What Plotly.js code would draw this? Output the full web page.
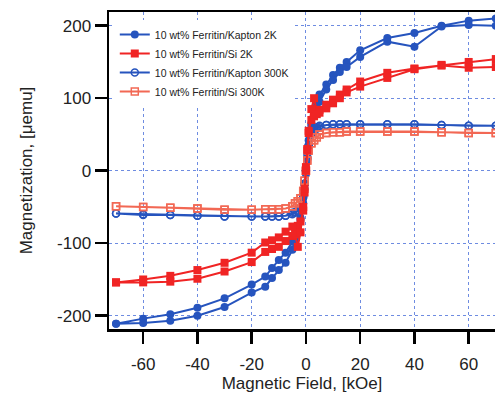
<!DOCTYPE html>
<html>
<head>
<meta charset="utf-8">
<script src="https://cdn.plot.ly/plotly-3.0.1.min.js"></script>
<style>html,body{margin:0;padding:0;background:#fff;}#chart{width:495px;height:394px;}</style>
</head>
<body>
<div id="chart"></div>
<script>
// Field sweep (kOe): descending branch, then ascending branch
const fieldDown = [70,60,50,40,30,20,15,12.5,10,7.5,5,4,3,2,1,0.5,0,-0.5,-1,-2,-3,-4,-5,-7.5,-10,-12.5,-15,-20,-30,-40,-50,-60,-70];
const fieldUp = [-70,-60,-50,-40,-30,-20,-15,-12.5,-10,-7.5,-5,-4,-3,-2,-1,-0.5,0,0.5,1,2,3,4,5,7.5,10,12.5,15,20,30,40,50,60,70];

// Magnetization (uemu)
const kapton2K_down = [210,207,200,190,183,166,150,142,132,119,105,94,80,62,35,15,-5,-25,-45,-68,-82,-92,-98,-113,-123,-134,-146,-157,-176,-189,-198,-204,-211];
const kapton2K_up = [-211,-210,-207,-200,-188,-168,-160,-148,-137,-127,-109,-98,-85,-65,-38,-18,3,22,42,65,78,88,95,112,125,136,143,157,178,171,199,201,200];

const si2K_down = [154,150,146,141,135,123,112,105,98,91,84,82,100,85,52,28,0,-30,-55,-70,-76,-78,-77,-84,-92,-96,-99,-113,-127,-137,-145,-150,-154];
const si2K_up = [-154,-154,-153,-149,-139,-126,-112,-108,-105,-97,-90,-88,-105,-85,-50,-25,5,30,55,70,75,78,80,86,93,100,108,116,128,140,145,142,143];

const kapton300K_down = [62,62,63,64,64,64,64,64,64,63,62,60,58,52,35,18,0,-18,-35,-50,-55,-57,-58,-62,-63,-63,-63,-63,-63,-62,-61,-61,-59];
const kapton300K_up = [-59,-60,-61,-62,-63,-63,-63,-63,-63,-62,-60,-58,-56,-52,-36,-18,0,17,34,50,56,58,60,63,64,64,64,64,64,64,63,62,62];

const si300K_down = [52,52,53,54,54,54,54,53,53,52,50,46,42,38,28,14,0,-14,-28,-38,-42,-45,-49,-52,-53,-53,-53,-54,-54,-52,-51,-50,-49];
const si300K_up = [-49,-50,-51,-52,-54,-54,-53,-53,-53,-52,-49,-45,-42,-38,-28,-14,0,14,28,38,42,46,50,52,53,53,54,54,54,54,53,52,52];

const seriesNames = ["10 wt% Ferritin/Kapton 2K","10 wt% Ferritin/Si 2K","10 wt% Ferritin/Kapton 300K","10 wt% Ferritin/Si 300K"];
const xTicks = [-60,-40,-20,0,20,40,60];
const yTicks = [-200,-100,0,100,200];

const blue = 'rgb(38,84,190)';
const red = 'rgb(240,36,36)';
const salmon = 'rgb(242,104,84)';

const loopX = fieldDown.concat(fieldUp);

function tr(name, y, color, symbol, rank, open) {
  return {
    type: 'scatter', mode: 'lines+markers', name: name,
    x: loopX, y: y, legendrank: rank,
    line: {color: color, width: 2},
    marker: open
      ? {symbol: symbol, size: 7, color: color, line: {color: color, width: 1.5}}
      : {symbol: symbol, size: 8, color: color, line: {width: 0}}
  };
}

const data = [
  tr(seriesNames[0], kapton2K_down.concat(kapton2K_up), blue, 'circle', 1, false),
  tr(seriesNames[2], kapton300K_down.concat(kapton300K_up), blue, 'circle-open', 3, true),
  tr(seriesNames[3], si300K_down.concat(si300K_up), salmon, 'square-open', 4, true),
  tr(seriesNames[1], si2K_down.concat(si2K_up), red, 'square', 2, false)
];

const layout = {
  width: 495, height: 394,
  margin: {l: 109, r: 0, t: 12, b: 65},
  paper_bgcolor: '#fff', plot_bgcolor: '#fff',
  font: {family: 'Arial, "Liberation Sans", sans-serif', color: '#222', size: 17},
  showlegend: true,
  legend: {x: 0.015, y: 0.975, xanchor: 'left', yanchor: 'top', bgcolor: '#fff',
           borderwidth: 0, font: {size: 10.5, color: '#222'}, traceorder: 'normal'},
  xaxis: {
    range: [-72.6, 69.7], tickvals: xTicks, ticktext: xTicks.map(String),
    showline: true, linecolor: '#000', linewidth: 2.5, mirror: true,
    ticks: 'outside', ticklen: 12, tickwidth: 2.5, tickcolor: '#000',
    showgrid: true, gridcolor: 'rgb(110,140,225)', griddash: 'dot', gridwidth: 1,
    zeroline: false, tickfont: {size: 17}, ticklabelstandoff: 6,
    title: {text: 'Magnetic Field, [kOe]', font: {size: 17}, standoff: 4}
  },
  yaxis: {
    range: [-218.3, 218.9], tickvals: yTicks, ticktext: yTicks.map(String),
    showline: true, linecolor: '#000', linewidth: 2.5, mirror: false,
    ticks: 'outside', ticklen: 12, tickwidth: 2.5, tickcolor: '#000',
    showgrid: true, gridcolor: 'rgb(110,140,225)', griddash: 'dot', gridwidth: 1,
    zeroline: false, tickfont: {size: 17},
    title: {text: 'Magnetization, [μemu]', font: {size: 17}, standoff: 20}
  }
};

Plotly.newPlot('chart', data, layout, {displayModeBar: false, staticPlot: true});
</script>
</body>
</html>
